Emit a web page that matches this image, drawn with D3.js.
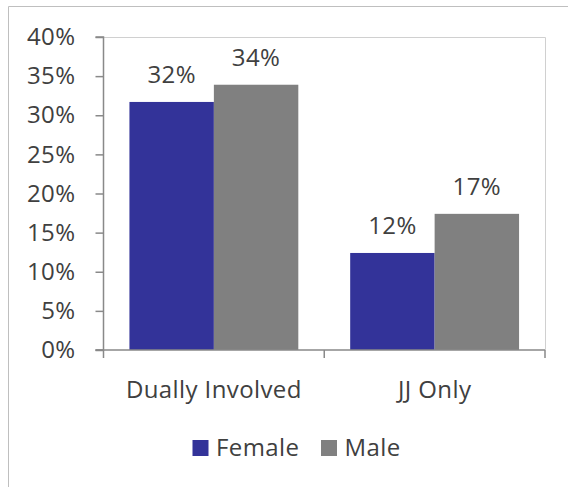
<!DOCTYPE html>
<html><head><meta charset="utf-8">
<script src="https://cdn.jsdelivr.net/npm/d3@7"></script>
<style>body{margin:0;background:#fff;}svg{display:block;font-family:"Open Sans",sans-serif;}text{letter-spacing:0.4px;}</style>
</head><body>
<script>
const categories = ["Dually Involved", "JJ Only"];
const seriesNames = ["Female", "Male"];
const female = [31.7, 12.4];
const male = [33.9, 17.4];
const yTicks = [0, 5, 10, 15, 20, 25, 30, 35, 40];
const colors = ["#333399", "#808080"];

const W = 568, H = 487, FS = "24px";
const svg = d3.select("body").append("svg").attr("width", W).attr("height", H);
// outer frame
svg.append("path").attr("d", `M8.5,${H} L8.5,6.5 L${W},6.5`).attr("fill","none").attr("stroke","#bfbfbf").attr("stroke-width",1);

const m = {left:103.5, right:545, top:37, bottom:350};
const y = d3.scaleLinear().domain([0,40]).range([m.bottom, m.top]);
const x0 = d3.scaleBand().domain(categories).range([m.left, m.right]).paddingInner(0.235).paddingOuter(0.1175);
const x1 = d3.scaleBand().domain(seriesNames).range([0, x0.bandwidth()]);

// plot area border
svg.append("path").attr("d", `M${m.left},${m.top+0.5} L${m.right+0.5},${m.top+0.5} L${m.right+0.5},${m.bottom}`).attr("fill","none").attr("stroke","#d0d0d0");

const data = categories.map((c,i)=>({cat:c, vals:[female[i], male[i]]}));
const g = svg.selectAll("g.cat").data(data).join("g").attr("transform", d=>`translate(${x0(d.cat)},0)`);
g.selectAll("rect").data(d=>d.vals.map((v,j)=>({v, s:seriesNames[j], j}))).join("rect")
  .attr("x", d=>x1(d.s)).attr("width", x1.bandwidth())
  .attr("y", d=>y(d.v)).attr("height", d=>y(0)-y(d.v))
  .attr("fill", d=>colors[d.j]);
g.selectAll("text").data(d=>d.vals.map((v,j)=>({v, s:seriesNames[j], j}))).join("text")
  .attr("x", d=>x1(d.s)+x1.bandwidth()/2).attr("y", d=>y(d.v)-19)
  .attr("text-anchor","middle").attr("font-size",FS).attr("fill","#404040")
  .text(d=>Math.round(d.v)+"%");

// y axis
const yAxis = d3.axisLeft(y).tickValues(yTicks).tickFormat(d=>d+"%").tickSize(8).tickPadding(20);
const ya = svg.append("g").attr("transform",`translate(${m.left},0)`).call(yAxis);
ya.select(".domain").attr("stroke","#898989").attr("stroke-width",1.5).attr("d",`M-8,${m.top}H0V${m.bottom}H-8`);
ya.selectAll(".tick line").attr("stroke","#898989").attr("stroke-width",1.5);
ya.selectAll("text").attr("font-size",FS).attr("fill","#404040").attr("font-family","Open Sans");

// x axis
const xb = svg.append("g");
xb.append("line").attr("x1",m.left-8).attr("x2",m.right).attr("y1",m.bottom).attr("y2",m.bottom).attr("stroke","#898989").attr("stroke-width",1.5);
const bounds = [m.left, (m.left+m.right)/2, m.right];
xb.selectAll("line.t").data(bounds).join("line").attr("class","t")
  .attr("x1",d=>d).attr("x2",d=>d).attr("y1",m.bottom).attr("y2",m.bottom+8).attr("stroke","#898989").attr("stroke-width",1.5);
xb.selectAll("text").data(categories).join("text")
  .attr("x", d=>x0(d)+x0.bandwidth()/2).attr("y", 398)
  .attr("text-anchor","middle").attr("font-size",FS).attr("fill","#404040").text(d=>d);

// legend
const leg = svg.append("g");
const legX = [192.5, 321];
seriesNames.forEach((s,i)=>{
  leg.append("rect").attr("x",legX[i]).attr("y",440).attr("width",16).attr("height",16).attr("fill",colors[i]);
  leg.append("text").attr("x",legX[i]+23.5).attr("y",456).attr("font-size",FS).attr("fill","#404040").text(s);
});
</script>
</body></html>
